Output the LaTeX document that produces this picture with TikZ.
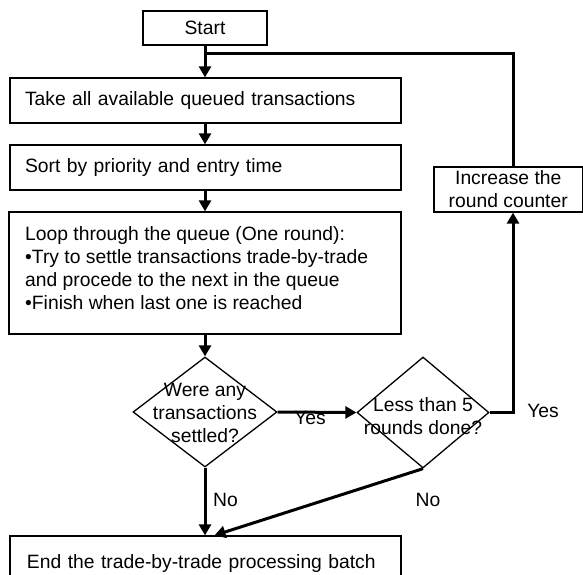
\documentclass[tikz,border=0pt]{standalone}
\usepackage{fontspec}
\setmainfont{Liberation Sans}
\usetikzlibrary{arrows.meta,shapes.geometric}
\begin{document}
\begin{tikzpicture}[x=1pt,y=-1pt,
  font=\fontsize{19.3}{23}\selectfont,
  box/.style={draw, line width=1.3pt, inner sep=0pt},
  dia/.style={draw, diamond, line width=1.3pt, inner sep=0pt},
  lbl/.style={inner sep=0pt},
  conn/.style={line width=3pt},
  arr/.style={conn, -{Triangle[length=11pt,width=12pt]}}]
\useasboundingbox (0,0) rectangle (583,574);
% boxes
\node[box, minimum width=124pt, minimum height=34pt] (start) at (205,28) {Start};
\node[box, minimum width=391pt, minimum height=45pt, text width=361pt, align=left] (take) at (205.5,100.5) {Take all available queued transactions};
\node[box, minimum width=391pt, minimum height=45pt, text width=361pt, align=left] (sort) at (205.5,167.5) {Sort by priority and entry time};
\node[box, minimum width=392pt, minimum height=122pt] (loop) at (205,273) {};
\node[lbl, anchor=north west, align=left] (looptxt) at (25,226) {Loop through the queue (One round):\\\textbullet Try to settle transactions trade-by-trade\\and procede to the next in the queue\\\textbullet Finish when last one is reached};
\node[box, minimum width=148.5pt, minimum height=45pt, align=center] (inc) at (508.25,189.5) {Increase the\\round counter};
\node[box, minimum width=391pt, minimum height=54pt, text width=357pt, align=left] (end) at (205.5,563) {End the trade-by-trade processing batch};
% decisions
\node[dia, minimum width=144pt, minimum height=110pt] (d1) at (205,412) {};
\node[lbl, align=center] (d1t) at (205,413) {Were any\\transactions\\settled?};
\node[dia, minimum width=132pt, minimum height=111pt] (d2) at (423,412.5) {};
\node[lbl, align=center] (d2t) at (423,416) {Less than 5\\rounds done?};
% labels
\node[lbl] (yes1) at (310,418) {Yes};
\node[lbl] (yes2) at (543,411) {Yes};
\node[lbl] (no1) at (225.5,500) {No};
\node[lbl] (no2) at (428,500) {No};
% connectors
\coordinate (j) at (513,53);
\draw[arr] (start.south) -- (start.south |- take.north);
\draw[conn] (inc.north -| j) -- (j) -- (j -| start);
\draw[arr] (take.south -| start) -- (sort.north -| start);
\draw[arr] (sort.south -| start) -- (loop.north -| start);
\draw[arr] (loop.south -| d1) -- (d1.north);
\draw[arr] (d1.east) -- (d2.west);
\draw[arr] (d2.east) -- (d2.east -| j) -- (inc.south -| j);
\draw[arr] (d1.south) -- (end.north -| d1);
\draw[arr] (d2.south) -- ([xshift=9pt]end.north);
\end{tikzpicture}
\end{document}
